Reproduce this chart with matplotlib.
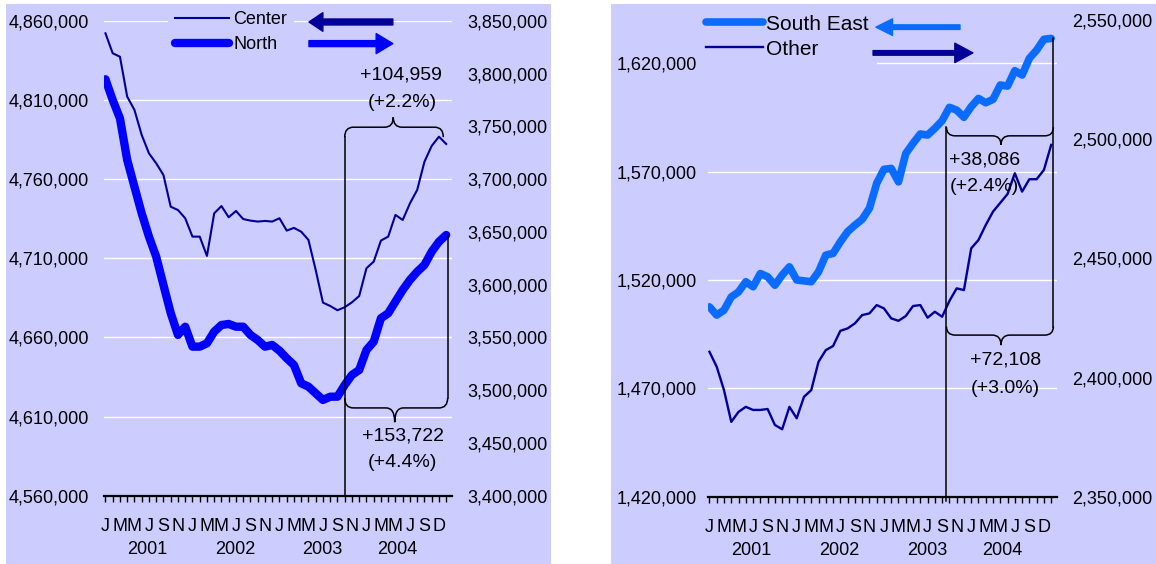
import numpy as np
import matplotlib
matplotlib.use('Agg')
import matplotlib.pyplot as plt
from matplotlib.patches import Rectangle, PathPatch
from matplotlib.path import Path
from matplotlib.lines import Line2D
from matplotlib.transforms import blended_transform_factory
from matplotlib.ticker import StrMethodFormatter

plt.rcParams['font.family'] = ['Liberation Sans', 'DejaVu Sans']
plt.rcParams['font.size'] = 13

### DATA ###

# monthly, Jan 2001 .. Dec 2004
month_labels = ['J', '', 'M', '', 'M', '', 'J', '', 'S', '', 'N', ''] * 3 + \
               ['J', '', 'M', '', 'M', '', 'J', '', 'S', '', 'D', '']
years = ['2001', '2002', '2003', '2004']
year_pos = [5.8, 17.9, 29.9, 40.3]

center = [4852100, 4839500, 4837300, 4812100, 4803700, 4787900, 4776300, 4770000,
          4762600, 4742600, 4740500, 4735300, 4723700, 4723700, 4711500, 4738400,
          4743000, 4735900, 4739900, 4734800, 4733800, 4733200, 4733600, 4733200,
          4735300, 4727500, 4729200, 4726800, 4721600, 4702600, 4682000, 4679900,
          4677200, 4679100, 4682200, 4686200, 4703700, 4707900, 4721200, 4723700,
          4737400, 4734200, 4744700, 4753200, 4771000, 4781000, 4786800, 4782200]
north = [3794600, 3775000, 3757600, 3718100, 3692800, 3667600, 3645500, 3626500,
         3599700, 3573200, 3552400, 3560200, 3541300, 3541300, 3544500, 3555500,
         3561800, 3562800, 3560200, 3560200, 3552400, 3547600, 3541300, 3542900,
         3537500, 3530300, 3523900, 3506600, 3503400, 3497100, 3490800, 3493900,
         3493900, 3505000, 3514500, 3519200, 3538100, 3546000, 3568200, 3572900,
         3584000, 3595000, 3604500, 3612300, 3618700, 3631300, 3640700, 3647100]
south_east = [1507600, 1503800, 1506100, 1512200, 1514500, 1519200, 1516900, 1523000,
              1521500, 1517600, 1522300, 1526100, 1520000, 1519600, 1519200, 1523800,
              1531500, 1532300, 1537600, 1542300, 1545300, 1548000, 1553100, 1564600,
              1571100, 1571500, 1565300, 1578400, 1583100, 1587400, 1586900, 1590000,
              1593500, 1599700, 1598400, 1595100, 1600000, 1603800, 1601800, 1603400,
              1610000, 1609500, 1616600, 1614600, 1622300, 1626100, 1631100, 1631500]
other = [2410800, 2404500, 2394700, 2381400, 2385600, 2387700, 2386400, 2386400,
         2386800, 2380100, 2378300, 2387700, 2382900, 2391900, 2394700, 2406600,
         2411500, 2413200, 2419600, 2420600, 2422700, 2426200, 2426900, 2430400,
         2429000, 2424800, 2423800, 2425800, 2430000, 2430400, 2425100, 2427600,
         2425500, 2432100, 2437400, 2436700, 2454200, 2457700, 2464000, 2469600,
         2473300, 2477000, 2485700, 2478000, 2483200, 2483200, 2487100, 2497600]

BG = '#CCCCFF'
NAVY = '#000099'
BLUE = '#0000FF'
LIGHT = '#0A6CFF'

W, H = 1156, 564
fig = plt.figure(figsize=(W / 100, H / 100), dpi=100)

# panel backgrounds
fig.add_artist(Rectangle((6 / W, 0), 545 / W, 560 / H, transform=fig.transFigure,
                         facecolor=BG, edgecolor='none', zorder=0))
fig.add_artist(Rectangle((611 / W, 0), 545 / W, 560 / H, transform=fig.transFigure,
                         facecolor=BG, edgecolor='none', zorder=0))


def brace(ax, x0, x1, xt, y, tip, ends, rx=1.2, lw=1.1):
    # curly brace, x in data units, y in axes fraction
    tr = blended_transform_factory(ax.transData, ax.transAxes)
    verts = [(x0, ends), (x0, y), (x0 + rx, y), (xt - rx, y), (xt, y), (xt, tip),
             (xt, y), (xt + rx, y), (x1 - rx, y), (x1, y), (x1, ends)]
    codes = [Path.MOVETO, Path.CURVE3, Path.CURVE3, Path.LINETO, Path.CURVE3, Path.CURVE3,
             Path.CURVE3, Path.CURVE3, Path.LINETO, Path.CURVE3, Path.CURVE3]
    ax.add_artist(PathPatch(Path(verts, codes), fill=False, edgecolor='black', lw=lw,
                            transform=tr, clip_on=False, zorder=4))


def vline(ax, x, y0, y1, lw=1.1):
    tr = blended_transform_factory(ax.transData, ax.transAxes)
    ax.add_artist(Line2D([x, x], [y0, y1], color='black', lw=lw, transform=tr,
                         clip_on=False, zorder=4))


def arrow(ax, tail, head, color, hl, hw, tw):
    ax.annotate('', xy=head, xytext=tail, xycoords='axes fraction',
                arrowprops=dict(arrowstyle='simple,head_length=%g,head_width=%g,tail_width=%g' % (hl, hw, tw),
                                mutation_scale=1, color=color, shrinkA=0, shrinkB=0),
                zorder=6, annotation_clip=False)


def setup(ax, axr, ylim, yticks, ylim_r, yticks_r, lpad):
    x = np.arange(len(month_labels))
    ax.set_facecolor('none')
    for s in ['top', 'left', 'right']:
        ax.spines[s].set_visible(False)
    for s in ['top', 'left', 'right', 'bottom']:
        axr.spines[s].set_visible(False)
    ax.spines['bottom'].set_linewidth(1.6)
    ax.set_xticks(x)
    ax.set_xticklabels(month_labels)
    ax.tick_params(axis='x', direction='out', length=4, width=1.0, pad=12)
    ax.set_xlim(-0.2, 47.8)
    ax.set_ylim(*ylim)
    ax.set_yticks(yticks)
    ax.yaxis.set_major_formatter(StrMethodFormatter('{x:,.0f}'))
    ax.tick_params(axis='y', length=0, pad=lpad)
    ax.yaxis.grid(True, color='white', linewidth=1.0)
    ax.set_axisbelow(True)
    axr.set_ylim(*ylim_r)
    axr.set_yticks(yticks_r)
    axr.yaxis.set_major_formatter(StrMethodFormatter('{x:,.0f}'))
    axr.tick_params(axis='y', length=0, pad=11)
    for yr, p in zip(years, year_pos):
        ax.annotate(yr, xy=(p, 0), xycoords=('data', 'axes fraction'), xytext=(0, -38.5),
                    textcoords='offset points', ha='center', va='center')


x = np.arange(len(center))

### LEFT PANEL: Center / North ###

ax1 = fig.add_axes([104 / W, (H - 495.8) / H, 348 / W, 475 / H])
ax2 = ax1.twinx()
l_center, = ax1.plot(x, center, color=NAVY, lw=1.5, label='Center')
l_north, = ax2.plot(x, north, color=BLUE, lw=6, solid_capstyle='round', label='North')
setup(ax1, ax2, (4560000, 4860000), np.arange(4560000, 4860001, 50000),
      (3400000, 3850000), np.arange(3400000, 3850001, 50000), 11)

leg = ax2.legend(handles=[l_center, l_north], loc='upper left', bbox_to_anchor=(0.184, 1.036),
                 handlelength=3.0, handletextpad=0.2, labelspacing=0.45, borderpad=0.4,
                 borderaxespad=0, frameon=True, facecolor=BG, edgecolor='none', framealpha=1,
                 fancybox=False)
leg.set_zorder(5)
arrow(ax2, (0.830, 0.9975), (0.589, 0.9975), NAVY, 10, 13.4, 4.3)
arrow(ax2, (0.589, 0.952), (0.830, 0.952), BLUE, 12, 14.4, 4.3)

north_end = (north[-1] - 3400000) / 450000
brace(ax2, 33.0, 46.6, 39.7, 0.776, 0.797, 0.755)
vline(ax2, 33.0, 0.755, 0.0)
brace(ax2, 33.0, 47.2, 39.9, 0.185, 0.155, 0.206)
vline(ax2, 47.2, north_end, 0.206)
tr2 = blended_transform_factory(ax2.transData, ax2.transAxes)
ax2.text(40.7, 0.886, '+104,959', transform=tr2, ha='center', va='center', fontsize=14)
ax2.text(40.9, 0.829, '(+2.2%)', transform=tr2, ha='center', va='center', fontsize=14)
ax2.text(41.0, 0.126, '+153,722', transform=tr2, ha='center', va='center', fontsize=14)
ax2.text(41.0, 0.070, '(+4.4%)', transform=tr2, ha='center', va='center', fontsize=14)

### RIGHT PANEL: South East / Other ###

ax3 = fig.add_axes([708 / W, (H - 496.7) / H, 349 / W, 476.7 / H])
ax4 = ax3.twinx()
l_se, = ax3.plot(x, south_east, color=LIGHT, lw=5.5, solid_capstyle='round', label='South East')
l_other, = ax4.plot(x, other, color=NAVY, lw=1.7, label='Other')
setup(ax3, ax4, (1420000, 1640000), np.arange(1420000, 1620001, 50000),
      (2350000, 2550000), np.arange(2350000, 2550001, 50000), 8)

leg2 = ax4.legend(handles=[l_se, l_other], loc='upper left', bbox_to_anchor=(-0.031, 1.029),
                  handlelength=2.75, handletextpad=0.15, labelspacing=0.3, borderpad=0.4,
                  borderaxespad=0, frameon=True, facecolor=BG, edgecolor='none', framealpha=1,
                  fancybox=False, fontsize=15)
leg2.set_zorder(5)
arrow(ax4, (0.722, 0.985), (0.481, 0.985), LIGHT, 12, 12, 3.3)
arrow(ax4, (0.473, 0.931), (0.759, 0.931), NAVY, 13, 14, 3.3)

se_end = (south_east[-1] - 1420000) / 220000
brace(ax4, 32.6, 47.3, 40.1, 0.757, 0.738, 0.775)
vline(ax4, 32.6, 0.775, -0.01)
brace(ax4, 32.6, 47.3, 40.1, 0.339, 0.318, 0.357)
vline(ax4, 47.3, se_end, 0.357)
tr4 = blended_transform_factory(ax4.transData, ax4.transAxes)
ax4.text(37.8, 0.706, '+38,086', transform=tr4, ha='center', va='center', fontsize=14)
ax4.text(37.8, 0.650, '(+2.4%)', transform=tr4, ha='center', va='center', fontsize=14)
ax4.text(40.7, 0.287, '+72,108', transform=tr4, ha='center', va='center', fontsize=14)
ax4.text(40.7, 0.228, '(+3.0%)', transform=tr4, ha='center', va='center', fontsize=14)

plt.savefig('out.png', dpi=100)
plt.close()
